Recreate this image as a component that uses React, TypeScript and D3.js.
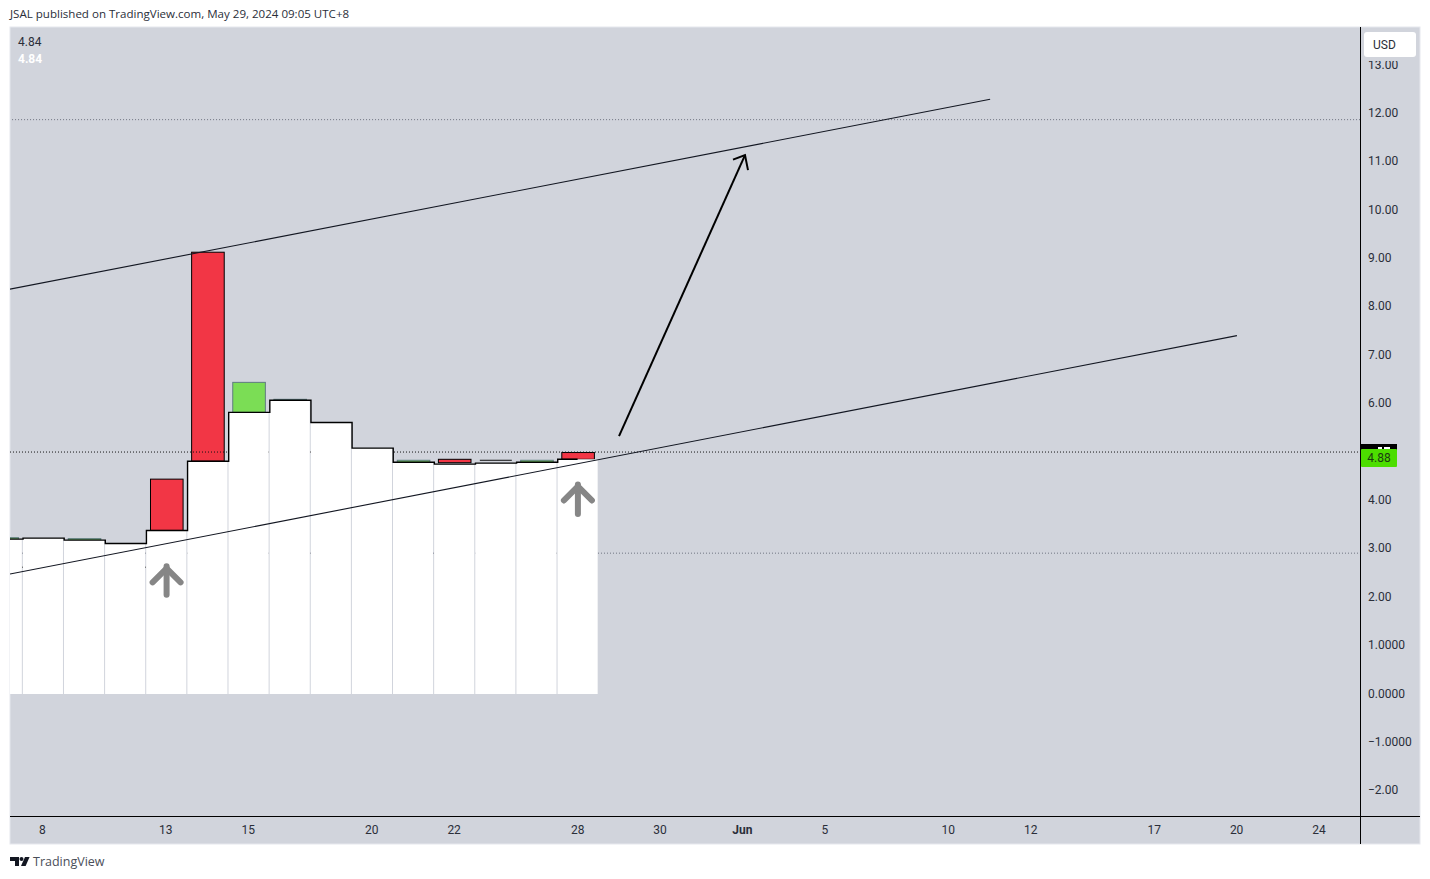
import React from "react";
import * as d3 from "d3";

const barIndex = [-1, 0, 1, 2, 3, 4, 5, 6, 7, 8, 9, 10, 11, 12, 13];
const stepTops = [3.18, 3.2, 3.16, 3.09, 3.36, 4.79, 5.8, 6.05, 5.59, 5.06, 4.77, 4.73, 4.75, 4.77, 4.83];
const candleHigh = [3.21, 3.2, 3.19, 3.09, 4.42, 9.11, 6.42, 6.07, 5.59, 5.06, 4.81, 4.83, 4.81, 4.81, 4.97];
const candleLow = [3.18, 3.2, 3.16, 3.09, 3.36, 4.79, 5.8, 6.05, 5.59, 5.06, 4.77, 4.76, 4.81, 4.77, 4.83];
const candleKind = ["up", "", "up", "", "down", "down", "up", "up", "", "", "up", "down", "flat", "up", "down"];

const priceTicks = [13, 12, 11, 10, 9, 8, 7, 6, 4, 3, 2, 1, 0, -1, -2];
const priceLabels = ["13.00", "12.00", "11.00", "10.00", "9.00", "8.00", "7.00", "6.00", "4.00", "3.00", "2.00", "1.0000", "0.0000", "−1.0000", "−2.00"];
const dateTicks = [0, 3, 5, 8, 10, 13, 15, 17, 19, 22, 24, 27, 29, 31];
const dateLabels = ["8", "13", "15", "20", "22", "28", "30", "Jun", "5", "10", "12", "17", "20", "24"];

const upperTrend: [number, number][] = [[-0.8, 8.347], [23.03, 12.27]];
const lowerTrend: [number, number][] = [[-0.8, 2.459], [29.03, 7.386]];
const bigArrow: [number, number][] = [[14.007, 5.31], [17.07, 11.116]];
const upMarkers = [{ i: 3, tip: 2.64, tail: 2.03 }, { i: 13, tip: 4.33, tail: 3.7 }];
const dottedLevels = [
  { v: 11.85, from: -0.75, color: "#6f7480" },
  { v: 4.98, from: -0.8, color: "#111" },
  { v: 2.89, from: -0.8, color: "#6f7480" },
  { v: 2.6, from: -0.8, to: 2.6, color: "#222" },
];

const BG = "#d1d4dc";
const FONT = "Roboto, sans-serif";
const TEXT_FONT = "'Open Sans', Roboto, sans-serif";
const PANE = { left: 10, right: 1360, top: 27, bottom: 816 };

const x = d3.scaleLinear().domain([0, 13]).range([42.9, 577.6]);
const xAxis = d3.scaleLinear().domain([0, 31]).range([42.3, 1319]);
const y = d3.scaleLinear().domain([0, 13]).range([693, 64]);
const line = d3.line<[number, number]>().x((d) => x(d[0])).y((d) => y(d[1]));

export default function App() {
  const halfStep = (x(1) - x(0)) / 2;
  const stepPath = d3.path();
  barIndex.forEach((b, k) => {
    const left = x(b) - halfStep + 0.7;
    const right = b === 13 ? x(13) : x(b) + halfStep + 0.7;
    const top = y(stepTops[k]);
    if (k === 0) stepPath.moveTo(left, top);
    else stepPath.lineTo(left, top);
    stepPath.lineTo(right, top);
  });
  const tip = [x(bigArrow[1][0]), y(bigArrow[1][1])];

  return (
    <svg width={1430} height={879} style={{ position: "absolute", left: 0, top: 0, background: "#fff" }}>
      <defs>
        <clipPath id="pane">
          <rect x={PANE.left} y={PANE.top} width={PANE.right - PANE.left} height={PANE.bottom - PANE.top} />
        </clipPath>
      </defs>
      <text x={10} y={18} fontFamily={TEXT_FONT} fontSize={11.55} fill="#2a2e39">
        JSAL published on TradingView.com, May 29, 2024 09:05 UTC+8
      </text>
      <rect x={10} y={27} width={1410} height={817} fill={BG} stroke="#e6e8ee" strokeWidth={1} />

      <g clipPath="url(#pane)">
        {barIndex.map((b, k) => {
          const kind = candleKind[k];
          if (!kind) return null;
          const cx = x(b) + 0.5;
          if (kind === "flat") {
            return <line key={b} x1={cx - 16} x2={cx + 16} y1={y(candleHigh[k])} y2={y(candleHigh[k])} stroke="#111" strokeWidth={1} />;
          }
          return (
            <rect
              key={b}
              x={cx - 16.3}
              y={y(candleHigh[k])}
              width={32.6}
              height={Math.max(1, y(candleLow[k]) - y(candleHigh[k]))}
              fill={kind === "down" ? "#f23645" : "#7bdd55"}
              stroke={kind === "down" ? "#000" : "#5f7c80"}
              strokeWidth={1}
            />
          );
        })}
        {dottedLevels.map((d) => (
          <line
            key={d.v}
            x1={x(d.from)}
            x2={d.to !== undefined ? x(d.to) : PANE.right}
            y1={y(d.v)}
            y2={y(d.v)}
            stroke={d.color}
            strokeWidth={1}
            strokeDasharray="1 2"
          />
        ))}
        {barIndex.map((b, k) => (
          <rect
            key={b}
            x={x(b) - halfStep + 0.5}
            y={y(stepTops[k])}
            width={halfStep * 2 - 1}
            height={y(0) + 1 - y(stepTops[k])}
            fill="#fff"
          />
        ))}
        <path d={stepPath.toString()} fill="none" stroke="#000" strokeWidth={1.4} />
        <path d={line(upperTrend)!} fill="none" stroke="#131722" strokeWidth={1.1} />
        <path d={line(lowerTrend)!} fill="none" stroke="#131722" strokeWidth={1.1} />
        <path d={line(bigArrow)!} fill="none" stroke="#000" strokeWidth={2} />
        <path
          d={`M${tip[0] - 12},${tip[1] + 4.5}L${tip[0]},${tip[1]}L${tip[0] + 3},${tip[1] + 15}`}
          fill="none"
          stroke="#000"
          strokeWidth={2}
        />
        {upMarkers.map((m) => {
          const cx = x(m.i) + 0.3;
          const t = y(m.tip);
          return (
            <g key={m.i} fill="none" stroke="#868686" strokeWidth={6} strokeLinecap="round" strokeLinejoin="round">
              <line x1={cx} x2={cx} y1={t + 1} y2={y(m.tail)} />
              <path d={`M${cx - 14},${t + 17}L${cx},${t + 3}L${cx + 14},${t + 17}`} />
            </g>
          );
        })}
      </g>

      <text x={18} y={46} fontFamily={FONT} fontSize={12} fill="#2a2e39">4.84</text>
      <text x={18} y={63} fontFamily={FONT} fontSize={12} fontWeight={700} fill="#ffffff">4.84</text>

      <line x1={1360.5} x2={1360.5} y1={27} y2={844} stroke="#000" strokeWidth={1} />
      <line x1={10} x2={1420} y1={816.5} y2={816.5} stroke="#000" strokeWidth={1} />

      {priceTicks.map((p, i) => (
        <text key={p} x={1368} y={y(p) + 4.5} fontFamily={FONT} fontSize={12} fill="#2a2e39">
          {priceLabels[i]}
        </text>
      ))}
      <rect x={1362} y={30} width={56} height={31} fill={BG} />
      <rect x={1364} y={32} width={52} height={25} rx={3} fill="#fff" />
      <text x={1373} y={49} fontFamily={FONT} fontSize={12} fill="#2a2e39">USD</text>

      <rect x={1361} y={444} width={36} height={6} fill="#000" />
      <rect x={1378} y={447} width={4} height={2} fill="#fff" />
      <rect x={1384} y={447} width={6} height={2} fill="#fff" />
      <rect x={1361} y={449} width={36} height={18} rx={1} fill="#4cdd00" />
      <text x={1379} y={462} textAnchor="middle" fontFamily={FONT} fontSize={12} fill="#1b3a12">4.88</text>

      {dateTicks.map((d, i) => (
        <text
          key={d}
          x={xAxis(d)}
          y={834}
          textAnchor="middle"
          fontFamily={FONT}
          fontSize={12}
          fontWeight={dateLabels[i] === "Jun" ? 700 : 400}
          fill="#2a2e39"
        >
          {dateLabels[i]}
        </text>
      ))}

      <g fill="#131722">
        <path d="M10,857H19V866H15V861H10Z" />
        <circle cx={21.5} cy={859} r={2} />
        <path d="M25,857H29.6L25.6,866H21Z" />
      </g>
      <text x={33} y={866} fontFamily={TEXT_FONT} fontSize={12.5} fill="#4a4e59">TradingView</text>
    </svg>
  );
}
